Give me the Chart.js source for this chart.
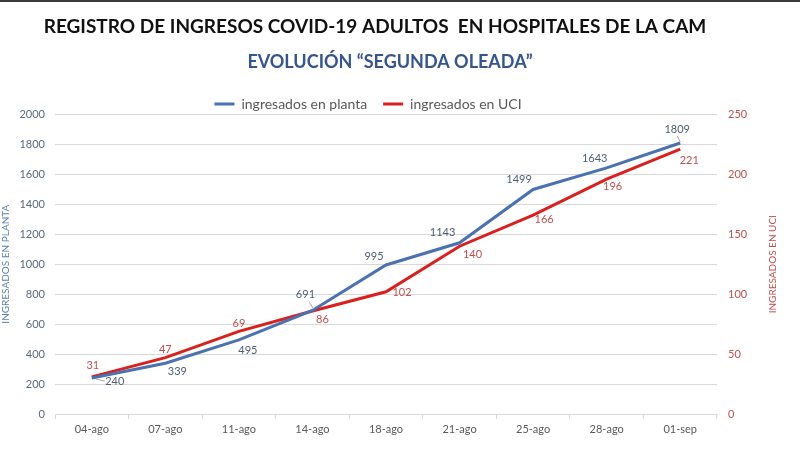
<!DOCTYPE html>
<html><head><meta charset="utf-8">
<script src="https://cdn.jsdelivr.net/npm/chart.js@4.4.1/dist/chart.umd.min.js"></script>
<style>html,body{margin:0;padding:0;background:#fff;}#wrap{width:800px;height:450px;position:relative;}</style>
</head><body><div id="wrap"><canvas id="c" width="800" height="450"></canvas></div>
<script>
const categories = ['04-ago','07-ago','11-ago','14-ago','18-ago','21-ago','25-ago','28-ago','01-sep'];
const planta = [240, 339, 495, 691, 995, 1143, 1499, 1643, 1809];
const uci = [31, 47, 69, 86, 102, 140, 166, 196, 221];
const seriesNames = ['ingresados en planta', 'ingresados en UCI'];
const titleText = 'REGISTRO DE INGRESOS COVID-19 ADULTOS  EN HOSPITALES DE LA CAM';
const subtitleText = 'EVOLUCIÓN “SEGUNDA OLEADA”';
const leftAxisTitle = 'INGRESADOS EN PLANTA';
const rightAxisTitle = 'INGRESADOS EN UCI';

// label placement relative to each point (dx, dy in px)
const plantaLabelOffsets = [[23,3],[12,8],[9,11],[-7,-16],[-12,-8],[-17,-10],[-14,-10],[-12,-9],[-3,-14]];
const uciLabelOffsets = [[1,-11],[0,-8],[0,-8],[10,9],[16,1],[13,8],[11,4],[6,7],[9,11]];
const plantaLeaders = {0:[[4,1],[13,3]], 3:[[-3,-8],[1,-2]], 8:[[-3,-7],[0,-1]]};

const FONT = 'Lato, "Open Sans", sans-serif';
const BLUE = '#4a72b0', RED = '#d9201f';

const tweaks = {
  id: 'tweaks',
  afterLayout(chart) {
    const t = chart.titleBlock;
    const sub = chart.boxes.find(b => b !== t && b.options && b.options.text === subtitleText);
    const lg = chart.legend;
    const place = (b, top, dx) => { if (!b) return; const h = b.height; b.top = top; b.bottom = top + h; b.left += dx; b.right += dx; };
    place(t, 27 - t.height / 2, -25);
    place(sub, 62 - sub.height / 2, -10);
    place(lg, 104 - (lg.options.labels.padding + 7), -32);
  },
  beforeDraw(chart) {
    const ctx = chart.ctx;
    ctx.save();
    ctx.fillStyle = '#fff'; ctx.fillRect(0, 0, chart.width, chart.height);
    ctx.fillStyle = '#3a3a3a'; ctx.fillRect(0, 0, chart.width, 2);
    ctx.restore();
  },
  afterDraw(chart) {
    const ctx = chart.ctx;
    const a = chart.chartArea;
    ctx.save();
    // right axis title, reading bottom-to-top
    ctx.translate(773, (a.top + a.bottom) / 2);
    ctx.rotate(-Math.PI / 2);
    ctx.font = '10px ' + FONT;
    ctx.fillStyle = '#c0504d';
    ctx.textAlign = 'center'; ctx.textBaseline = 'middle';
    ctx.fillText(rightAxisTitle, 0, 0);
    ctx.restore();

    ctx.save();
    ctx.font = '11px ' + FONT;
    ctx.textAlign = 'center'; ctx.textBaseline = 'middle';
    const sets = [[0, plantaLabelOffsets, '#4d5d78'], [1, uciLabelOffsets, '#c0504d']];
    sets.forEach(([di, offs, col]) => {
      const meta = chart.getDatasetMeta(di);
      const data = chart.data.datasets[di].data;
      meta.data.forEach((el, i) => {
        const [dx, dy] = offs[i];
        ctx.fillStyle = col;
        ctx.fillText(String(data[i]), el.x + dx, el.y + dy);
        if (di === 0 && plantaLeaders[i]) {
          const [p, q] = plantaLeaders[i];
          ctx.strokeStyle = '#a6a6a6'; ctx.lineWidth = 1;
          ctx.beginPath(); ctx.moveTo(el.x + p[0], el.y + p[1]); ctx.lineTo(el.x + q[0], el.y + q[1]); ctx.stroke();
        }
      });
    });
    ctx.restore();
  }
};

new Chart(document.getElementById('c'), {
  type: 'line',
  data: {
    labels: categories,
    datasets: [
      { label: seriesNames[0], data: planta, borderColor: BLUE, backgroundColor: BLUE, borderWidth: 3, pointRadius: 0, tension: 0, yAxisID: 'y' },
      { label: seriesNames[1], data: uci, borderColor: RED, backgroundColor: RED, borderWidth: 3, pointRadius: 0, tension: 0, yAxisID: 'y1' }
    ]
  },
  options: {
    responsive: false,
    animation: false,
    devicePixelRatio: 1,
    layout: { padding: { top: 30, left: 0, right: 0, bottom: 0 } },
    plugins: {
      title: { display: true, text: titleText, color: '#111', font: { family: FONT, size: 19, weight: 'bold', lineHeight: 1.2 }, padding: 0 },
      subtitle: { display: true, text: subtitleText, color: '#35558c', font: { family: FONT, size: 18, weight: 'bold', lineHeight: 1.2 }, padding: 0 },
      legend: { display: true, position: 'top', labels: { usePointStyle: true, pointStyle: 'line', pointStyleWidth: 20, padding: 16, color: '#595959', font: { family: FONT, size: 14 } } },
      tooltip: { enabled: false }
    },
    scales: {
      x: {
        offset: true,
        grid: { display: true, drawOnChartArea: false, drawTicks: true, tickLength: 5, color: '#d9d9d9', offset: true },
        border: { display: true, color: '#d9d9d9' },
        ticks: { color: '#595959', font: { family: FONT, size: 11 }, padding: 4, maxRotation: 0 },
        afterFit(s) { s.height = 36; }
      },
      y: {
        position: 'left', min: 0, max: 2000,
        ticks: { stepSize: 200, color: '#5a6a80', font: { family: FONT, size: 11 }, padding: 10, callback: v => String(v) },
        grid: { color: '#d9d9d9', drawTicks: false },
        border: { display: false },
        title: { display: true, text: leftAxisTitle, color: '#5b7fb5', font: { family: FONT, size: 10 }, padding: 0 },
        afterFit(s) { s.width = 55; }
      },
      y1: {
        position: 'right', min: 0, max: 250,
        ticks: { stepSize: 50, color: '#c0504d', font: { family: FONT, size: 11 }, padding: 11, callback: v => String(v) },
        grid: { drawOnChartArea: false, drawTicks: false },
        border: { display: false },
        afterFit(s) { s.width = 83; }
      }
    }
  },
  plugins: [tweaks]
});
</script></body></html>
